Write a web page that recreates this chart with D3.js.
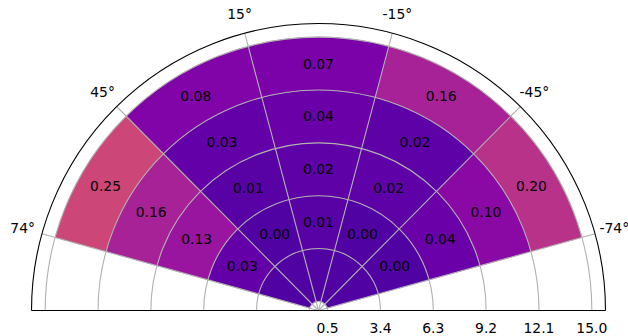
<!DOCTYPE html>
<html>
<head>
<meta charset="utf-8">
<script src="https://cdn.jsdelivr.net/npm/d3@7/dist/d3.min.js"></script>
<style>
  html, body { margin: 0; padding: 0; background: #ffffff; }
  svg { display: block; }
  text { font-family: "DejaVu Sans", sans-serif; font-size: 13.9px; fill: #000; }
</style>
</head>
<body>
<svg id="chart" width="628" height="336"></svg>
<script>
// Angular bin edges (degrees, counter-clockwise from the top) and radial bin edges
const thetaEdges = [-74.5, -44.7, -14.9, 14.9, 44.7, 74.5];
const rEdges = [0.5, 3.4, 6.3, 9.2, 12.1, 15.0];

// Labelled fractions for each angular sector (rings 2..5, inner to outer)
const sectorA = [0.00, 0.04, 0.10, 0.20]; // -74.5 .. -44.7
const sectorB = [0.00, 0.02, 0.02, 0.16]; // -44.7 .. -14.9
const sectorC = [0.01, 0.02, 0.04, 0.07]; // -14.9 .. 14.9
const sectorD = [0.00, 0.01, 0.03, 0.08]; //  14.9 .. 44.7
const sectorE = [0.03, 0.13, 0.16, 0.25]; //  44.7 .. 74.5
// Innermost ring (0.5 .. 3.4), drawn without labels
const innerRing = [0.00, 0.00, 0.00, 0.00, 0.00];

const thetaTickLabels = ["-74°", "-45°", "-15°", "15°", "45°", "74°"];
const rTicks = [0.5, 3.4, 6.3, 9.2, 12.1, 15.0];
const rMax = 15.75;

const sectors = [sectorA, sectorB, sectorC, sectorD, sectorE];

const svg = d3.select("#chart");
const cx = 318.5, cy = 310.5;
const r = d3.scaleLinear().domain([0, rMax]).range([0, 287]);
const toRad = d => d * Math.PI / 180;
// d3 angles run clockwise from the top; data angles run counter-clockwise
const ang = d => -toRad(d);
const colorT = d3.scaleLinear().domain([0, 0.25]).range([0.14, 0.5]);
const color = v => d3.interpolatePlasma(colorT(v));

const g = svg.append("g").attr("transform", `translate(${cx},${cy})`);

// Cells
const cells = [];
sectors.forEach((vals, i) => {
  const all = [innerRing[i]].concat(vals);
  all.forEach((v, j) => {
    cells.push({
      t0: thetaEdges[i], t1: thetaEdges[i + 1],
      r0: rEdges[j], r1: rEdges[j + 1],
      v: v, labelled: j > 0
    });
  });
});

const arc = d3.arc()
  .innerRadius(d => r(d.r0))
  .outerRadius(d => r(d.r1))
  .startAngle(d => ang(d.t1))
  .endAngle(d => ang(d.t0));

g.selectAll("path.cell").data(cells).join("path")
  .attr("class", "cell")
  .attr("d", arc)
  .attr("fill", d => color(d.v))
  .attr("stroke", d => color(d.v))
  .attr("stroke-width", 0.3);

// Grid: circles (upper half) and spokes
const grid = g.append("g").attr("fill", "none").attr("stroke", "#b0b0b0").attr("stroke-width", 1.1);
const halfArc = d3.arc().startAngle(-Math.PI / 2).endAngle(Math.PI / 2);
rTicks.forEach(t => {
  grid.append("path").attr("d", halfArc({ innerRadius: r(t), outerRadius: r(t) }));
});
thetaEdges.forEach(t => {
  const a = ang(t);
  grid.append("line")
    .attr("x1", 0).attr("y1", 0)
    .attr("x2", r(rMax) * Math.sin(a)).attr("y2", -r(rMax) * Math.cos(a));
});

// Spines: outer half circle and baseline
const spine = g.append("g").attr("fill", "none").attr("stroke", "#000").attr("stroke-width", 1.1);
spine.append("path").attr("d", halfArc({ innerRadius: r(rMax), outerRadius: r(rMax) }));
spine.append("line").attr("x1", -r(rMax)).attr("x2", r(rMax)).attr("y1", 0).attr("y2", 0);

// Cell value labels
g.selectAll("text.val").data(cells.filter(d => d.labelled)).join("text")
  .attr("class", "val")
  .attr("text-anchor", "middle")
  .attr("dominant-baseline", "central")
  .attr("x", d => r((d.r0 + d.r1) / 2) * Math.sin(ang((d.t0 + d.t1) / 2)))
  .attr("y", d => -r((d.r0 + d.r1) / 2) * Math.cos(ang((d.t0 + d.t1) / 2)))
  .text(d => d3.format(".2f")(d.v));

// Angular tick labels
g.selectAll("text.tt").data(thetaEdges).join("text")
  .attr("class", "tt")
  .attr("text-anchor", "middle")
  .attr("dominant-baseline", "central")
  .attr("x", d => 307 * Math.sin(ang(d)))
  .attr("y", d => -307 * Math.cos(ang(d)))
  .text((d, i) => thetaTickLabels[i]);

// Radial tick labels along the baseline
g.selectAll("text.rt").data(rTicks).join("text")
  .attr("class", "rt")
  .attr("text-anchor", "middle")
  .attr("dominant-baseline", "central")
  .attr("x", d => r(d))
  .attr("y", 17.2)
  .text(d => d3.format(".1f")(d));
</script>
</body>
</html>
